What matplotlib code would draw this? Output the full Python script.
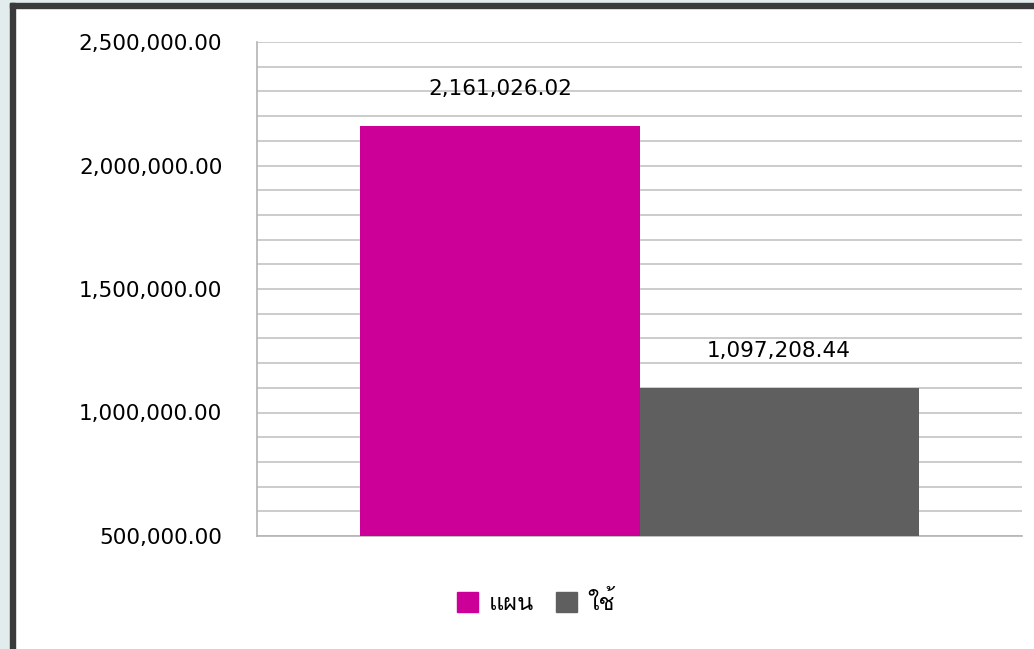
import matplotlib.pyplot as plt
from matplotlib import font_manager
from matplotlib.ft2font import FT2Font
from matplotlib.patches import Rectangle, Patch
from matplotlib.ticker import MultipleLocator, FuncFormatter

series = ["แผน", "ใช้"]
values = [2161026.02, 1097208.44]
colors = ["#CC0099", "#5F5F5F"]


def thai_font():
    # find any installed font that can draw Thai
    for f in font_manager.fontManager.ttflist:
        try:
            if FT2Font(f.fname).get_char_index(0x0E41):
                return f.name
        except Exception:
            pass
    return None


th = thai_font()
fams = ["DejaVu Sans"] + ([th] if th else [])
plt.rcParams["font.family"] = fams

fig = plt.figure(figsize=(10.34, 6.49), dpi=100)
W, H = 1034, 649

# frame around the chart like the screenshot
fig.patches.append(Rectangle((0, 0), 1, 1, transform=fig.transFigure, color="#E2ECEC", zorder=-3))
fig.patches.append(Rectangle((15 / W, 0), 1, 1 - 8 / H, transform=fig.transFigure, color="white", zorder=-2))
fig.patches.append(Rectangle((10 / W, 0), 5 / W, 1 - 3 / H, transform=fig.transFigure, color="#3A3A3A", zorder=-1))
fig.patches.append(Rectangle((10 / W, 1 - 8 / H), 1, 5 / H, transform=fig.transFigure, color="#3A3A3A", zorder=-1))

ax = fig.add_axes([257 / W, 1 - 536 / H, 765 / W, 494 / H])
ax.set_facecolor("none")

width = 0.365
xs = [-width / 2, width / 2]
for x, v, c, s in zip(xs, values, colors, series):
    ax.bar(x, v - 500000, width=width, bottom=500000, color=c, label=s, zorder=3)
    ax.text(x, v + 150000, f"{v:,.2f}", ha="center", va="center", fontsize=15.5)

ax.set_xlim(-0.5, 0.5)
ax.set_ylim(500000, 2500000)
ax.yaxis.set_major_locator(MultipleLocator(500000))
ax.yaxis.set_minor_locator(MultipleLocator(100000))
ax.yaxis.set_major_formatter(FuncFormatter(lambda v, p: f"{v:,.2f}"))
ax.grid(axis="y", which="both", color="#C4C4C4", linewidth=1.2, zorder=0)
ax.set_xticks([])
ax.tick_params(axis="y", which="both", length=0, pad=25, labelsize=15.5)
for lbl in ax.get_yticklabels():
    lbl.set_y(lbl.get_position()[1])
for side in ["top", "right"]:
    ax.spines[side].set_visible(False)
for side in ["left", "bottom"]:
    ax.spines[side].set_color("#B4B4B4")
    ax.spines[side].set_linewidth(1.2)

handles = [Patch(color=c, label=s) for c, s in zip(colors, series)]
fig.legend(handles=handles, loc="center", bbox_to_anchor=(536 / W, 1 - 603 / H), ncol=2,
           frameon=False, fontsize=17, handlelength=0.9, handleheight=0.9,
           handletextpad=0.45, columnspacing=0.9)

fig.savefig("out.png", dpi=100)
